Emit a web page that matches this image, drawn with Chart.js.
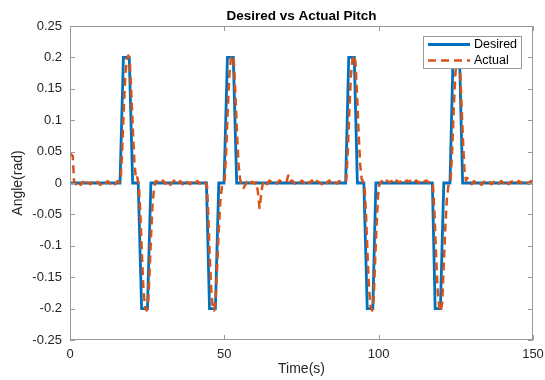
<!DOCTYPE html>
<html>
<head>
<meta charset="utf-8">
<title>Desired vs Actual Pitch</title>
<script src="https://cdn.jsdelivr.net/npm/chart.js@4.4.1/dist/chart.umd.min.js"></script>
<style>
  html, body { margin: 0; padding: 0; background: #fff; }
  #pitch-chart { display: block; }
</style>
</head>
<body>
<canvas id="pitch-chart" width="545" height="380"></canvas>
<script>
// Pitch reference (rad) vs time (s): step profile with 1 s ramps
const desiredPitch = [
  [0, 0], [16.2, 0], [17.3, 0.2], [19.2, 0.2], [20.3, 0], [22.1, 0], [23.2, -0.2], [25.1, -0.2], [26.2, 0],
  [44.2, 0], [45.2, -0.2], [47.1, -0.2], [48.2, 0], [49.9, 0], [51.0, 0.2], [52.9, 0.2], [54.0, 0],
  [89.3, 0], [90.3, 0.2], [92.1, 0.2], [93.1, 0], [95.2, 0], [96.3, -0.2], [98.1, -0.2], [99.1, 0],
  [117.4, 0], [118.3, -0.2], [120.0, -0.2], [121.1, 0], [123.1, 0], [124.1, 0.2], [126.2, 0.2], [127.2, 0],
  [150, 0]
];

// Measured pitch (rad) vs time (s)
const actualPitch = [
  [0, 0.047], [0.9, 0.043], [1.3, 0.004], [1.9, -0.002], [2.6, 0.003], [3.4, -0.003], [4.2, 0.002],
  [5.0, -0.004], [5.8, 0.001], [6.6, -0.002], [7.4, 0.003], [8.2, -0.001], [9.0, 0.002], [9.8, -0.003],
  [10.6, 0.001], [11.4, -0.002], [12.2, 0.003], [13.0, -0.001], [13.8, 0.002], [14.6, -0.002], [15.4, 0.003], [16.0, 0.001],
  [16.4, 0.004], [16.9, 0.05], [17.4, 0.115], [17.9, 0.17], [18.4, 0.197], [18.9, 0.203], [19.4, 0.192],
  [19.9, 0.14], [20.4, 0.08], [20.9, 0.03], [21.4, 0.006], [21.8, 0.009],
  [22.3, -0.004], [22.8, -0.05], [23.3, -0.115], [23.8, -0.17], [24.3, -0.197], [24.8, -0.203], [25.3, -0.192],
  [25.8, -0.14], [26.3, -0.08], [26.8, -0.03], [27.3, -0.006], [27.8, 0.003],
  [28.5, 0.002], [29.3, -0.002], [30.1, 0.004], [30.9, -0.001], [31.7, 0.003], [32.5, -0.003], [33.3, 0.002],
  [34.1, 0.005], [34.9, -0.001], [35.7, 0.003], [36.5, -0.002], [37.3, 0.004], [38.1, 0.001], [38.9, -0.002],
  [39.7, 0.004], [40.5, 0.0], [41.3, 0.003], [42.1, -0.001], [42.9, 0.004], [43.7, 0.002],
  [44.4, -0.005], [44.8, -0.05], [45.3, -0.12], [45.8, -0.175], [46.3, -0.2], [46.7, -0.203], [47.2, -0.185],
  [47.7, -0.13], [48.2, -0.075], [48.7, -0.03], [49.2, -0.006], [49.6, 0.002],
  [50.1, 0.004], [50.6, 0.05], [51.1, 0.115], [51.6, 0.17], [52.1, 0.197], [52.6, 0.203], [53.1, 0.192],
  [53.6, 0.14], [54.1, 0.08], [54.6, 0.03], [55.1, 0.006], [55.6, -0.002], [56.2, -0.008], [56.8, -0.003],
  [57.4, 0.003], [58.2, -0.002], [59.0, 0.002], [59.8, -0.001], [60.4, 0.001], [60.9, -0.015], [61.4, -0.04],
  [61.9, -0.02], [62.4, -0.002], [63.0, 0.003], [63.8, -0.002], [64.6, 0.004], [65.4, 0.001], [66.2, 0.003],
  [67.0, -0.001], [67.8, 0.004], [68.6, 0.002], [69.4, 0.005], [70.2, 0.003], [70.7, 0.012], [71.2, 0.002],
  [72.0, 0.004], [72.8, -0.001], [73.6, 0.003], [74.4, 0.001], [75.2, 0.004], [76.0, -0.002], [76.8, 0.003],
  [77.6, 0.0], [78.4, 0.004], [79.2, -0.002], [80.0, 0.003], [80.8, 0.001], [81.6, -0.002], [82.4, 0.003],
  [83.2, 0.0], [84.0, 0.004], [84.8, -0.002], [85.6, 0.002], [86.4, -0.001], [87.2, 0.003], [88.0, 0.001], [88.8, 0.003],
  [89.5, 0.004], [90.0, 0.05], [90.5, 0.115], [91.0, 0.17], [91.5, 0.197], [92.0, 0.203], [92.5, 0.192],
  [93.0, 0.14], [93.5, 0.08], [94.0, 0.03], [94.5, 0.006], [94.9, 0.003],
  [95.4, -0.004], [95.9, -0.05], [96.4, -0.115], [96.9, -0.17], [97.4, -0.197], [97.9, -0.203], [98.4, -0.185],
  [98.8, -0.13], [99.3, -0.07], [99.8, -0.02], [100.2, -0.003],
  [101.0, 0.003], [101.8, -0.001], [102.6, 0.004], [103.4, 0.001], [104.2, 0.003], [105.0, -0.002], [105.8, 0.004],
  [106.6, 0.001], [107.4, 0.003], [108.2, -0.001], [109.0, 0.004], [109.8, 0.002], [110.6, 0.005], [111.4, 0.001],
  [112.2, 0.004], [113.0, 0.0], [113.8, 0.006], [114.6, 0.002], [115.4, 0.004], [116.2, 0.001], [116.9, 0.003],
  [117.6, -0.004], [118.1, -0.05], [118.6, -0.115], [119.1, -0.17], [119.6, -0.197], [120.1, -0.205], [120.6, -0.19],
  [121.1, -0.13], [121.6, -0.07], [122.1, -0.025], [122.6, -0.004], [122.9, 0.002],
  [123.3, 0.004], [123.8, 0.05], [124.3, 0.115], [124.8, 0.17], [125.3, 0.197], [125.8, 0.203], [126.3, 0.19],
  [126.8, 0.13], [127.3, 0.07], [127.8, 0.02], [128.3, 0.004], [128.7, 0.008],
  [129.3, 0.002], [130.1, -0.002], [130.9, 0.003], [131.7, -0.001], [132.5, 0.002], [133.3, -0.003], [134.1, 0.002],
  [134.9, 0.0], [135.7, 0.003], [136.5, -0.002], [137.3, 0.002], [138.1, 0.004], [138.9, -0.001], [139.7, 0.003],
  [140.5, 0.0], [141.3, 0.004], [142.1, -0.002], [142.9, 0.002], [143.7, 0.003], [144.5, -0.001], [145.3, 0.003],
  [146.1, 0.0], [146.9, 0.004], [147.7, 0.001], [148.5, -0.001], [149.3, 0.003], [150, 0.001]
];

const timeTicks = [0, 50, 100, 150];
const angleTicks = [-0.25, -0.2, -0.15, -0.1, -0.05, 0, 0.05, 0.1, 0.15, 0.2, 0.25];
const chartTitle = "Desired vs Actual Pitch";

const BLUE = "#0072BD";
const ORANGE = "#D95319";
const AXIS = "#9a9a9a";
const FONT = "'Liberation Sans', Arial, sans-serif";

const toPoints = (rows) => rows.map(([t, v]) => ({ x: t, y: v }));
const fmt = (v) => String(parseFloat(Number(v).toFixed(2)));

// box round the axes with short inward ticks on all four sides, title centred over the axes
const axesBox = {
  id: "axesBox",
  afterDatasetsDraw(chart) {
    const { ctx, chartArea: a, scales } = chart;
    ctx.save();
    ctx.strokeStyle = AXIS;
    ctx.lineWidth = 1;
    ctx.strokeRect(a.left + 0.5, a.top + 0.5, a.right - a.left - 1, a.bottom - a.top - 1);
    ctx.beginPath();
    timeTicks.forEach((t) => {
      const x = Math.round(scales.x.getPixelForValue(t)) + 0.5;
      ctx.moveTo(x, a.bottom); ctx.lineTo(x, a.bottom - 5);
      ctx.moveTo(x, a.top); ctx.lineTo(x, a.top + 5);
    });
    angleTicks.forEach((v) => {
      const y = Math.round(scales.y.getPixelForValue(v)) + 0.5;
      ctx.moveTo(a.left, y); ctx.lineTo(a.left + 5, y);
      ctx.moveTo(a.right, y); ctx.lineTo(a.right - 5, y);
    });
    ctx.stroke();

    ctx.font = "bold 13.5px " + FONT;
    ctx.fillStyle = "#000";
    ctx.textAlign = "center";
    ctx.textBaseline = "middle";
    ctx.fillText(chartTitle, (a.left + a.right) / 2, 16);
    ctx.restore();
  },
};

// legend sits inside the axes, top right, over the lines
const insideLegend = {
  id: "insideLegend",
  afterDraw(chart) {
    const { ctx, chartArea: a } = chart;
    const boxW = 99, boxH = 33;
    const x0 = a.right - 11 - boxW, y0 = a.top + 10;
    ctx.save();
    ctx.fillStyle = "#fff";
    ctx.fillRect(x0, y0, boxW, boxH);
    ctx.strokeStyle = AXIS;
    ctx.lineWidth = 1;
    ctx.strokeRect(x0 + 0.5, y0 + 0.5, boxW - 1, boxH - 1);
    ctx.font = "12.5px " + FONT;
    ctx.textBaseline = "middle";
    ctx.fillStyle = "#000";
    chart.data.datasets
      .slice()
      .sort((p, q) => p.legendIndex - q.legendIndex)
      .forEach((ds, i) => {
        const y = y0 + 8.5 + i * 16;
        ctx.beginPath();
        ctx.strokeStyle = ds.borderColor;
        ctx.lineWidth = ds.borderWidth;
        ctx.setLineDash(ds.borderDash || []);
        ctx.moveTo(x0 + 5, y);
        ctx.lineTo(x0 + 47, y);
        ctx.stroke();
        ctx.setLineDash([]);
        ctx.fillText(ds.label, x0 + 51, y + 0.5);
      });
    ctx.restore();
  },
};

new Chart(document.getElementById("pitch-chart"), {
  type: "scatter",
  data: {
    datasets: [
      {
        label: "Actual",
        legendIndex: 1,
        data: toPoints(actualPitch),
        showLine: true,
        borderColor: ORANGE,
        borderWidth: 2.5,
        borderDash: [8, 5],
        borderJoinStyle: "round",
        pointRadius: 0,
        order: 1,
      },
      {
        label: "Desired",
        legendIndex: 0,
        data: toPoints(desiredPitch),
        showLine: true,
        borderColor: BLUE,
        borderWidth: 2.8,
        pointRadius: 0,
        order: 2,
      },
    ],
  },
  options: {
    responsive: false,
    devicePixelRatio: 1,
    animation: false,
    layout: { padding: { left: 0, right: 0, top: 26, bottom: 0 } },
    plugins: {
      legend: { display: false },
      tooltip: { enabled: false },
      title: { display: false },
    },
    scales: {
      x: {
        type: "linear",
        min: 0,
        max: 150,
        afterBuildTicks: (s) => { s.ticks = timeTicks.map((v) => ({ value: v })); },
        afterFit: (s) => { s.height = 40; s.paddingLeft = 0; s.paddingRight = 12; },
        grid: { display: false, drawTicks: false },
        border: { display: false },
        ticks: { color: "#262626", font: { family: FONT, size: 13 }, padding: 7, maxRotation: 0 },
        title: {
          display: true,
          text: "Time(s)",
          color: "#262626",
          font: { family: FONT, size: 14 },
          padding: { top: 0, bottom: 2 },
        },
      },
      y: {
        type: "linear",
        min: -0.25,
        max: 0.25,
        afterBuildTicks: (s) => { s.ticks = angleTicks.map((v) => ({ value: v })); },
        afterFit: (s) => { s.width = 70; s.paddingTop = 0; s.paddingBottom = 0; },
        grid: { display: false, drawTicks: false },
        border: { display: false },
        ticks: { color: "#262626", font: { family: FONT, size: 13 }, padding: 8, callback: (v) => fmt(v) },
        title: {
          display: true,
          text: "Angle(rad)",
          color: "#262626",
          font: { family: FONT, size: 14 },
          padding: { top: 10, bottom: 0 },
        },
      },
    },
  },
  plugins: [axesBox, insideLegend],
});
</script>
</body>
</html>
